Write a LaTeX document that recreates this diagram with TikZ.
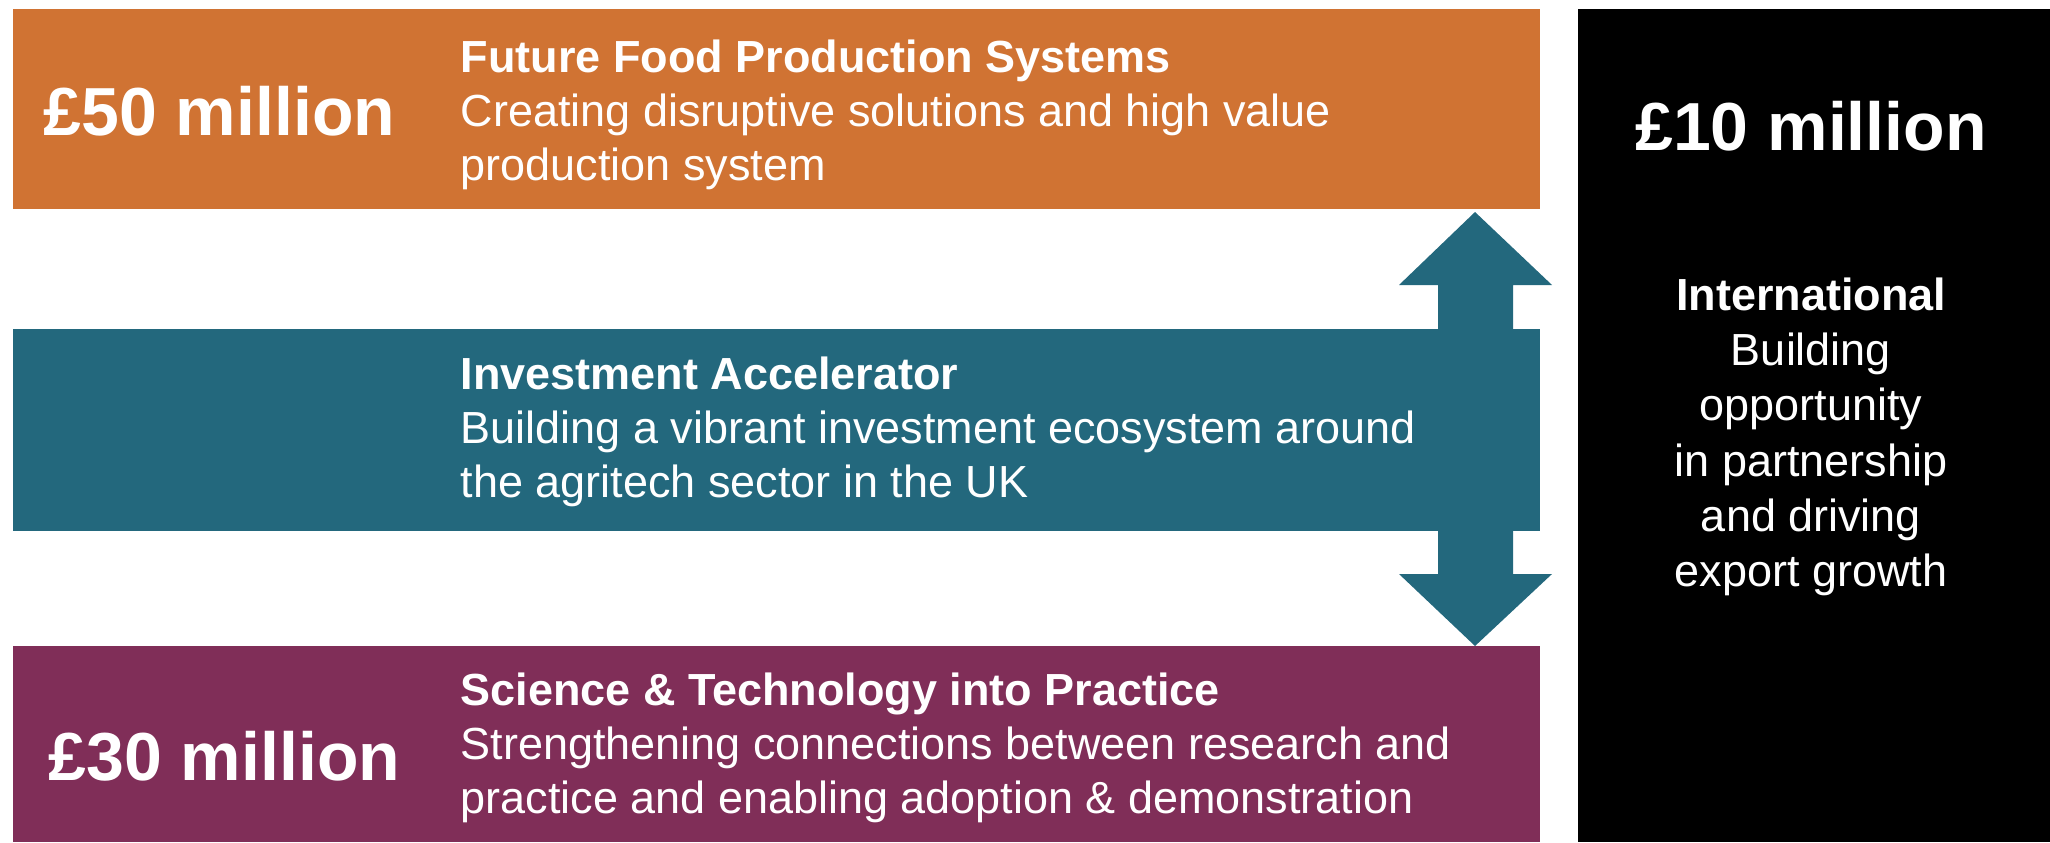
\documentclass[tikz,border=0pt]{standalone}
\usepackage{fontspec}
\setmainfont{Liberation Sans}
\usepackage{tkz-euclide}
\definecolor{foodorange}{RGB}{208,115,51}
\definecolor{investteal}{RGB}{35,104,125}
\definecolor{sciencepurple}{RGB}{128,46,88}

\begin{document}
\begin{tikzpicture}
    \tikzset{money/.style={text=white,font=\fontsize{19.35}{23}\selectfont\bfseries,inner sep=0pt},
             blurb/.style={text=white,font=\fontsize{12.8}{15.36}\selectfont,align=left,inner sep=0pt,anchor=base west}}
    \useasboundingbox (0,0) rectangle (20.5,8.42);
    \tkzDefPoints{0.13/6.33/A, 15.40/8.33/B, 0.13/3.11/C, 15.40/5.13/D, 0.13/0/E, 15.40/1.96/F, 15.78/0/G, 20.5/8.33/H}
    \tkzDefPoints{14.75/6.30/T, 13.99/5.57/L1, 14.38/5.57/L2, 15.13/5.57/R2, 15.52/5.57/R1}
    \tkzDefPoints{14.38/2.68/L3, 13.99/2.68/L4, 15.13/2.68/R3, 15.52/2.68/R4, 14.75/1.96/U}

    \fill[foodorange] (A) rectangle (B);
    \fill[investteal] (C) rectangle (D);
    \fill[sciencepurple] (E) rectangle (F);
    \fill[black] (G) rectangle (H);
    \fill[investteal] (T) -- (R1) -- (R2) -- (R3) -- (R4) -- (U) -- (L4) -- (L3) -- (L2) -- (L1) -- cycle;

    % base anchor sits on the last line
    \node[money,anchor=base west] (fifty) at (0.43,7.07) {£50 million};
    \node[blurb] (future) at (4.60,6.62) {\textbf{Future Food Production Systems}\\Creating disruptive solutions and high value\\production system};
    \node[blurb] (invest) at (4.60,3.45) {\textbf{Investment Accelerator}\\Building a vibrant investment ecosystem around\\the agritech sector in the UK};
    \node[money,anchor=base west] (thirty) at (0.48,0.62) {£30 million};
    \node[blurb] (science) at (4.60,0.29) {\textbf{Science \& Technology into Practice}\\Strengthening connections between research and\\practice and enabling adoption \& demonstration};

    \node[money,anchor=base] (ten) at (18.11,6.92) {£10 million};
    \node[blurb,align=center,anchor=base,font=\fontsize{12.8}{15.65}\selectfont] (intl) at (18.11,2.56) {\textbf{International}\\Building\\opportunity\\in partnership\\and driving\\export growth};
\end{tikzpicture}
\end{document}
